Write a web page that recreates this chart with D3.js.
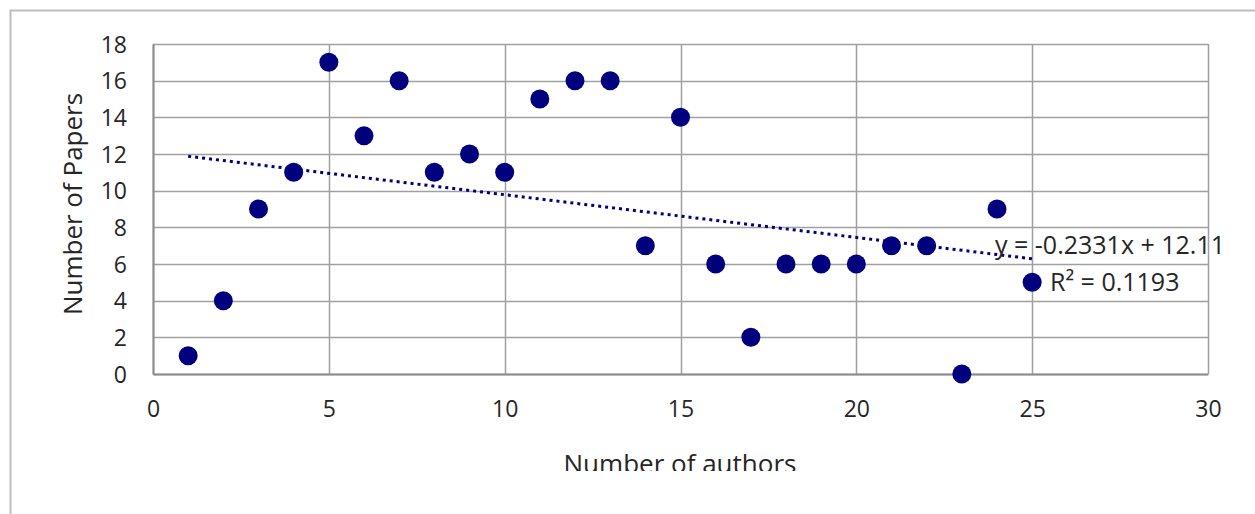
<!DOCTYPE html>
<html>
<head>
<meta charset="utf-8">
<script src="https://cdn.jsdelivr.net/npm/d3@7"></script>
<style>
  body { margin: 0; background: #fff; }
  svg { display: block; font-family: 'Open Sans', 'DejaVu Sans', sans-serif; }
</style>
</head>
<body>
<div id="chart"></div>
<script>
const width = 1255;
const height = 514;

// Data
const authors = [1, 2, 3, 4, 5, 6, 7, 8, 9, 10, 11, 12, 13, 14, 15, 16, 17, 18, 19, 20, 21, 22, 23, 24, 25];
const papers = [1, 4, 9, 11, 17, 13, 16, 11, 12, 11, 15, 16, 16, 7, 14, 6, 2, 6, 6, 6, 7, 7, 0, 9, 5];
const xTicks = [0, 5, 10, 15, 20, 25, 30];
const yTicks = [0, 2, 4, 6, 8, 10, 12, 14, 16, 18];
const trendSlope = -0.2331;
const trendIntercept = 12.11;
const equationLines = ['y = -0.2331x + 12.11', 'R² = 0.1193'];

const margin = { left: 153, right: 47, top: 44, bottom: 140 };

const svg = d3.select('#chart')
  .append('svg')
  .attr('width', width)
  .attr('height', height);

// outer chart frame (only top and left edges visible)
svg.append('path')
  .attr('d', `M10.5,${height} L10.5,10.5 L${width},10.5`)
  .attr('fill', 'none')
  .attr('stroke', '#bdbdbd')
  .attr('stroke-width', 2);

const x = d3.scaleLinear().domain([0, 30]).range([margin.left, width - margin.right]);
const y = d3.scaleLinear().domain([0, 18]).range([height - margin.bottom, margin.top]);

// gridlines
svg.append('g')
  .selectAll('line')
  .data(yTicks)
  .enter()
  .append('line')
  .attr('x1', x(0))
  .attr('x2', x(30))
  .attr('y1', (d) => Math.round(y(d)) + 0.5)
  .attr('y2', (d) => Math.round(y(d)) + 0.5)
  .attr('stroke', '#a0a0a0')
  .attr('stroke-width', 1.5);

svg.append('g')
  .selectAll('line')
  .data(xTicks)
  .enter()
  .append('line')
  .attr('x1', (d) => Math.round(x(d)) + 0.5)
  .attr('x2', (d) => Math.round(x(d)) + 0.5)
  .attr('y1', y(0))
  .attr('y2', y(18))
  .attr('stroke', '#a0a0a0')
  .attr('stroke-width', 1.5);

// axes
const xAxis = svg.append('g')
  .attr('transform', `translate(0,${y(0)})`)
  .call(d3.axisBottom(x).tickValues(xTicks).tickSize(0).tickPadding(27));
const yAxis = svg.append('g')
  .attr('transform', `translate(${x(0)},0)`)
  .call(d3.axisLeft(y).tickValues(yTicks).tickSize(0).tickPadding(26));

[xAxis, yAxis].forEach((g) => {
  g.select('.domain').attr('stroke', '#8c8c8c').attr('stroke-width', 2);
  g.selectAll('text')
    .style('font-size', '23px')
    .style('font-family', "'Open Sans', sans-serif")
    .attr('fill', '#262626');
});
yAxis.selectAll('text').attr('dy', '0.36em');

// axis titles (bottom one is cut off slightly in the source)
svg.append('clipPath')
  .attr('id', 'cut')
  .append('rect')
  .attr('x', 0)
  .attr('y', 0)
  .attr('width', width)
  .attr('height', 471);

svg.append('text')
  .attr('x', 680)
  .attr('y', 473)
  .attr('clip-path', 'url(#cut)')
  .attr('text-anchor', 'middle')
  .style('font-size', '26px')
  .attr('fill', '#262626')
  .text('Number  of authors');

svg.append('text')
  .attr('transform', 'translate(82,204) rotate(-90)')
  .attr('text-anchor', 'middle')
  .style('font-size', '26px')
  .attr('fill', '#262626')
  .text('Number  of Papers');

// points
const points = authors.map((a, i) => ({ a, p: papers[i] }));
svg.append('g')
  .selectAll('circle')
  .data(points)
  .enter()
  .append('circle')
  .attr('cx', (d) => x(d.a))
  .attr('cy', (d) => y(d.p))
  .attr('r', 9.5)
  .attr('fill', '#00007f');

// linear trendline (dotted)
const xMin = d3.min(authors), xMax = d3.max(authors);
svg.append('line')
  .attr('x1', x(xMin))
  .attr('y1', y(trendIntercept + trendSlope * xMin))
  .attr('x2', x(xMax))
  .attr('y2', y(trendIntercept + trendSlope * xMax))
  .attr('stroke', '#00007f')
  .attr('stroke-width', 3)
  .attr('stroke-dasharray', '3,4');

// equation label
svg.append('text')
  .attr('x', 995)
  .attr('y', 254)
  .style('font-size', '25px')
  .attr('fill', '#262626')
  .text(equationLines[0]);
svg.append('text')
  .attr('x', 1050)
  .attr('y', 291)
  .style('font-size', '25px')
  .attr('fill', '#262626')
  .text(equationLines[1]);
</script>
</body>
</html>
